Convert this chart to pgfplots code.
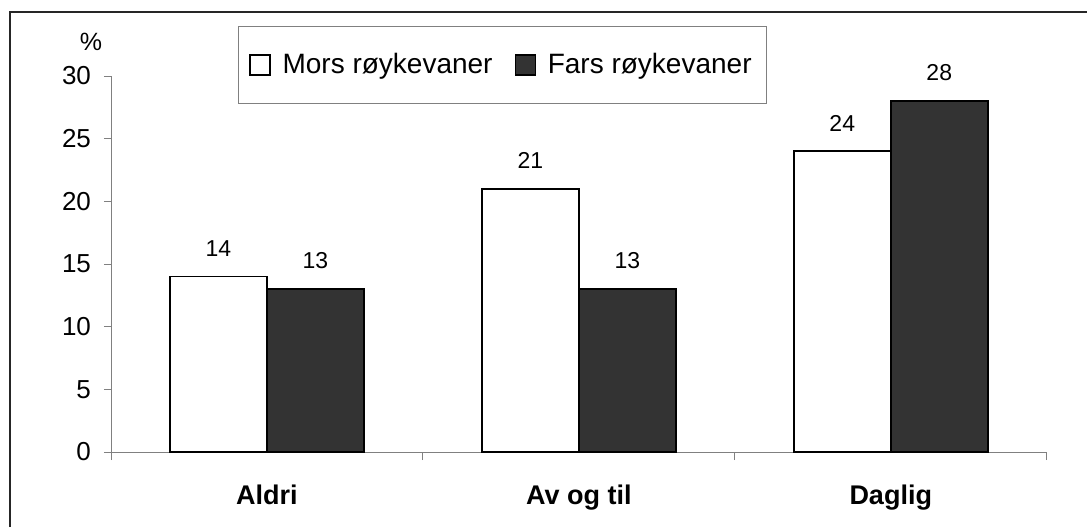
\documentclass[border=0pt]{standalone}
\usepackage{pgfplots}
\pgfplotsset{compat=1.18}
\usepackage{fontspec}
\setmainfont{Liberation Sans}
\definecolor{axgray}{gray}{0.5}
\definecolor{darkbar}{HTML}{333333}
\begin{document}
\begin{tikzpicture}
\useasboundingbox (0pt,0pt) rectangle (543.5pt,263.5pt);
\draw[line width=0.6pt, color=black!85] (5pt,0pt) -- (5pt,257.5pt) -- (543.5pt,257.5pt);
\begin{axis}[
  at={(55.5pt,37.5pt)}, anchor=south west,
  scale only axis, width=467.85pt, height=188pt,
  ybar=0pt, bar width=48.5pt,
  xmin=-0.5, xmax=2.5, ymin=0, ymax=30,
  axis x line*=bottom, axis y line*=left,
  axis line style={draw=axgray, line width=0.5pt},
  clip=false,
  xtick={0,1,2}, xticklabels={Aldri, Av og til, Daglig},
  major x tick style={draw=none},
  x tick label style={font=\fontsize{13.5}{15}\selectfont\bfseries, anchor=base, yshift=-22.5pt},
  extra x ticks={-0.5,0.5,1.5,2.5}, extra x tick labels={},
  extra x tick style={major tick length=4pt, tick align=outside, major x tick style={draw=axgray, line width=0.5pt}},
  ytick={0,5,...,30},
  tick align=outside, major tick length=3.5pt,
  y tick style={draw=axgray, line width=0.5pt},
  y tick label style={font=\fontsize{13}{15}\selectfont, xshift=-3pt},
  /pgf/number format/assume math mode=true,
  nodes near coords,
  every node near coord/.append style={font=\fontsize{11.5}{13}\selectfont, anchor=center, yshift=14pt},
  legend columns=2,
  legend style={at={(0.4184,1.029)}, anchor=center, draw=axgray, line width=0.5pt,
    font=\fontsize{14}{16}\selectfont, inner xsep=5.5pt, inner ysep=11.3pt,
    /tikz/every odd column/.append style={column sep=4pt},
    /tikz/every even column/.append style={column sep=9pt}},
  legend image code/.code={\draw[#1, line width=0.6pt] (0pt,-5pt) rectangle (10pt,5pt);},
]
\addplot[draw=black, line width=0.75pt, fill=white] coordinates {(0,14) (1,21) (2,24)};
\addplot[draw=black, line width=0.75pt, fill=darkbar] coordinates {(0,13) (1,13) (2,28)};
\legend{Mors røykevaner, Fars røykevaner}
\end{axis}
\node[font=\fontsize{12.5}{14}\selectfont] at (45.5pt,242.5pt) {\%};
\end{tikzpicture}
\end{document}
